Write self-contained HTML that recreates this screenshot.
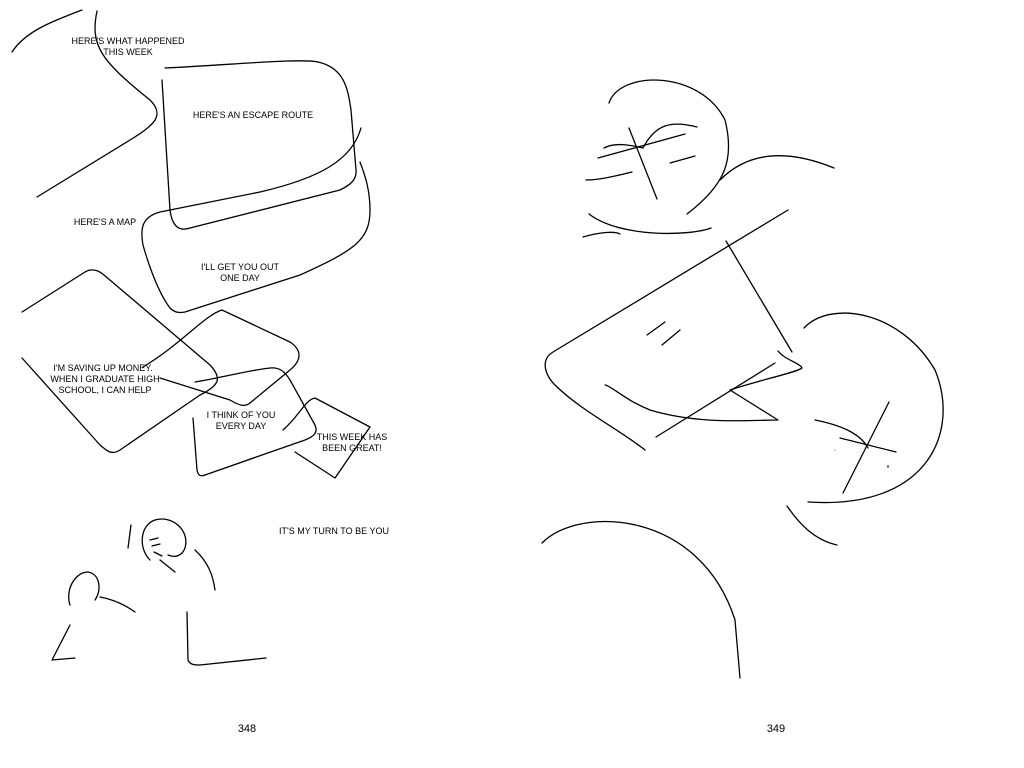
<!DOCTYPE html>
<html><head><meta charset="utf-8"><style>
html,body{margin:0;padding:0;background:#fff;}
svg{display:block}
text{font-family:"Liberation Sans",sans-serif;font-size:9px;fill:#000;text-anchor:middle;}
</style></head><body>
<svg width="1024" height="768" viewBox="0 0 1024 768" xmlns="http://www.w3.org/2000/svg">
<g fill="none" stroke="#000" stroke-width="1.3" stroke-linecap="round" stroke-linejoin="round">
<!-- left page -->
<path d="M12,52 C25,32 50,22 82,10"/>
<path d="M97,11 C90,45 100,60 150,100 C165,115 155,125 130,140 L37,197"/>
<path d="M165,68 C230,65 300,58 318,62 C345,68 348,90 351,110 L356,170 C357,180 350,185 340,190 L190,228 C178,232 172,225 170,210 L162,80"/>
<path d="M361,128 C352,160 320,178 260,192 L160,212 C142,217 140,228 143,245 C150,270 160,295 170,308 C175,313 180,313 185,312 L300,275 C355,250 370,240 370,210 C370,190 365,175 360,162"/>
<path d="M22,312 L85,272 C92,268 98,270 104,275 L210,365 C222,378 220,385 200,395 L120,450 C112,455 108,452 100,445 L22,358"/>
<path d="M143,367 C180,345 205,315 222,310 L290,342 C302,350 302,360 290,370 L250,403 C245,407 240,406 230,400 L160,378"/>
<path d="M195,382 C220,378 250,370 270,368 C280,367 285,372 290,380 L315,425 C318,432 315,436 305,440 L205,475 C200,477 198,475 197,470 L193,418"/>
<path d="M283,430 C300,415 305,400 315,398 L370,427 L335,478 L295,452"/>
<!-- figures -->
<path d="M150,560 C138,548 140,525 155,520 C172,515 190,530 185,548 C182,556 175,558 168,555"/>
<path d="M131,525 L128,548"/>
<path d="M150,540 L158,538 M152,546 L160,544 M154,552 L162,556"/>
<path d="M195,550 C208,562 213,575 215,590"/>
<path d="M175,572 L160,560"/>
<path d="M70,605 C65,590 75,572 88,572 C100,574 102,590 95,600"/>
<path d="M100,597 C115,600 125,605 135,612"/>
<path d="M70,625 L52,660 L75,658"/>
<path d="M187,612 L188,660 C190,665 195,665 200,665 L266,658"/>
<!-- right page -->
<path d="M609,103 C620,70 700,70 725,120 C735,160 725,185 687,214"/>
<path d="M598,158 L685,134"/>
<path d="M629,128 L657,199"/>
<path d="M604,148 C615,142 630,145 643,148 C655,125 670,120 697,127"/>
<path d="M670,163 L695,156"/>
<path d="M586,180 C600,180 615,176 632,172"/>
<path d="M589,214 C620,238 690,236 711,228"/>
<path d="M583,237 C600,232 615,231 620,234"/>
<path d="M720,180 C750,150 790,150 834,168"/>
<path d="M788,210 L553,352 C540,360 545,375 555,385 C580,410 620,430 645,450"/>
<path d="M726,241 L792,352"/>
<path d="M778,351 C785,360 800,363 802,368 C798,372 760,380 730,390 L778,420 C750,420 700,425 650,410 C625,400 610,385 605,385"/>
<path d="M775,363 L656,437"/>
<path d="M647,335 L665,322 M662,345 L680,330"/>
<path d="M804,328 C830,300 900,310 935,370 C960,430 930,510 808,502"/>
<path d="M889,402 L843,493"/>
<path d="M840,438 L896,452"/>
<path d="M815,420 C840,425 860,433 868,448"/>
<path d="M787,506 C800,525 815,540 837,545"/>
<path d="M542,543 C580,505 700,510 735,620 L740,678"/>
</g>
<circle cx="835" cy="450" r="0.8" fill="#999"/>
<path d="M888,465 L888,468" stroke="#000"/>
<text x="128" y="44">HERE'S WHAT HAPPENED</text>
<text x="128" y="55">THIS WEEK</text>
<text x="253" y="118">HERE'S AN ESCAPE ROUTE</text>
<text x="105" y="225">HERE'S A MAP</text>
<text x="240" y="270">I'LL GET YOU OUT</text>
<text x="240" y="281">ONE DAY</text>
<text x="103" y="371">I'M SAVING UP MONEY.</text>
<text x="105" y="382">WHEN I GRADUATE HIGH</text>
<text x="105" y="393">SCHOOL, I CAN HELP</text>
<text x="241" y="418">I THINK OF YOU</text>
<text x="241" y="429">EVERY DAY</text>
<text x="352" y="440">THIS WEEK HAS</text>
<text x="352" y="451">BEEN GREAT!</text>
<text x="334" y="534">IT'S MY TURN TO BE YOU</text>
<text x="247" y="732" style="font-size:11px">348</text>
<text x="776" y="732" style="font-size:11px">349</text>
</svg>
</body></html>
